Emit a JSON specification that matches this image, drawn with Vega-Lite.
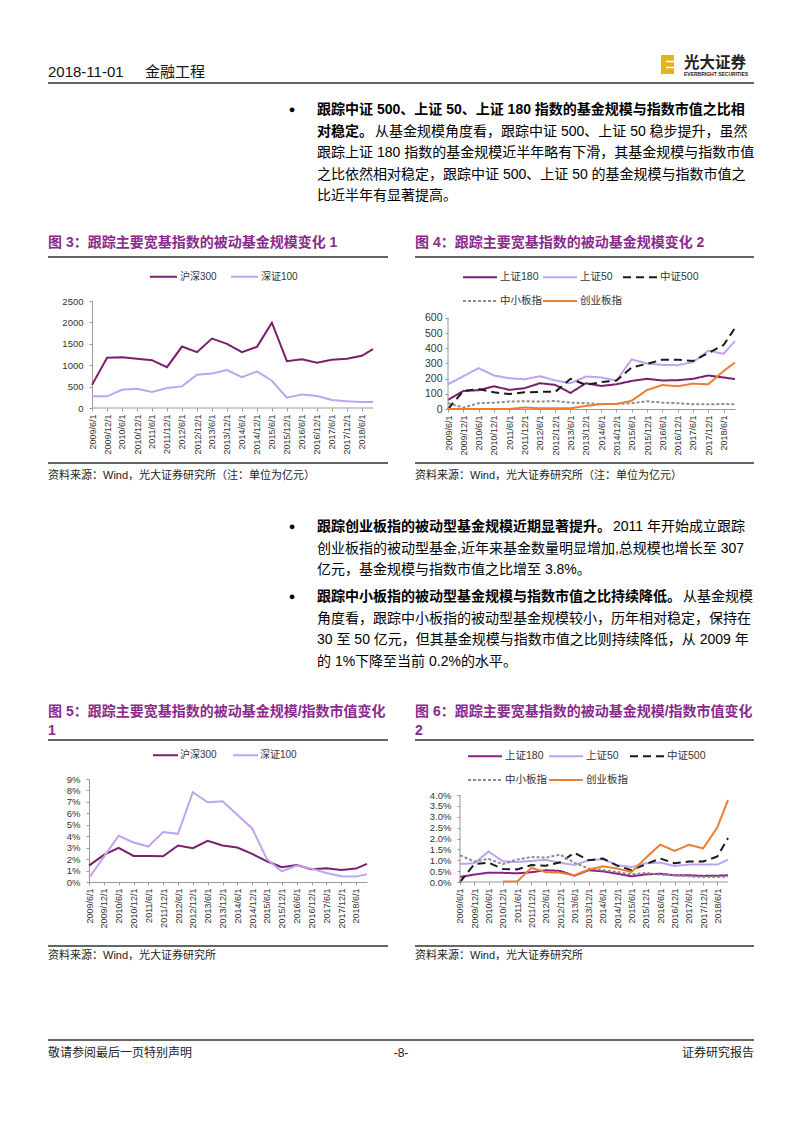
{
"$schema": "https://vega.github.io/schema/vega-lite/v6.json",
"padding": 0,
"background": "white",
"spacing": 0,
"bounds": "flush",
"columns": 4,
"align": "each",
"resolve": {"scale": {"color": "independent", "strokeDash": "independent"}, "legend": {"color": "independent", "strokeDash": "independent"}},
"config": {
  "view": {"stroke": null},
  "font": "Liberation Sans, Noto Sans CJK SC, sans-serif",
  "axis": {"labelFont": "Liberation Sans, Noto Sans CJK SC", "labelColor": "#333", "domainColor": "#9a9a9a", "tickColor": "#9a9a9a", "grid": false, "title": null, "tickSize": 3, "labelOverlap": false, "labelFlush": false, "labelBound": false},
  "legend": {"labelFont": "Liberation Sans, Noto Sans CJK SC", "labelColor": "#333", "padding": 0, "title": null}
},
"datasets": {
  "f3": [
    {"d":"2009/06/01","沪深300":540,"深证100":272},
    {"d":"2009/12/01","沪深300":1172,"深证100":272},
    {"d":"2010/06/01","沪深300":1188,"深证100":427},
    {"d":"2010/12/01","沪深300":1149,"深证100":450},
    {"d":"2011/06/01","沪深300":1118,"深证100":373},
    {"d":"2011/12/01","沪深300":955,"深证100":466},
    {"d":"2012/06/01","沪深300":1436,"深证100":505},
    {"d":"2012/12/01","沪深300":1304,"深证100":776},
    {"d":"2013/06/01","沪深300":1623,"深证100":807},
    {"d":"2013/12/01","沪深300":1498,"深证100":885},
    {"d":"2014/06/01","沪深300":1304,"深证100":722},
    {"d":"2014/12/01","沪深300":1429,"深证100":854},
    {"d":"2015/06/01","沪深300":1995,"深证100":637},
    {"d":"2015/12/01","沪深300":1095,"深证100":241},
    {"d":"2016/06/01","沪深300":1141,"深证100":318},
    {"d":"2016/12/01","沪深300":1056,"深证100":280},
    {"d":"2017/06/01","沪深300":1126,"深证100":186},
    {"d":"2017/12/01","沪深300":1149,"深证100":155},
    {"d":"2018/06/01","沪深300":1219,"深证100":140},
    {"d":"2018/10/15","沪深300":1374,"深证100":140}
  ],
  "f4": [
    {"d":"2009/06/01","上证180":60,"上证50":163,"中证500":0,"中小板指":38,"创业板指":0},
    {"d":"2009/12/01","上证180":119,"上证50":216,"中证500":119,"中小板指":9,"创业板指":0},
    {"d":"2010/06/01","上证180":124,"上证50":269,"中证500":132,"中小板指":38,"创业板指":0},
    {"d":"2010/12/01","上证180":150,"上证50":221,"中证500":110,"中小板指":42,"创业板指":0},
    {"d":"2011/06/01","上证180":126,"上证50":203,"中证500":99,"中小板指":49,"创业板指":0},
    {"d":"2011/12/01","上证180":137,"上证50":196,"中证500":110,"中小板指":51,"创业板指":10},
    {"d":"2012/06/01","上证180":170,"上证50":216,"中证500":113,"中小板指":49,"创业板指":5},
    {"d":"2012/12/01","上证180":159,"上证50":188,"中证500":113,"中小板指":53,"创业板指":5},
    {"d":"2013/06/01","上证180":106,"上证50":170,"中证500":199,"中小板指":42,"创业板指":5},
    {"d":"2013/12/01","上证180":170,"上证50":214,"中证500":159,"中小板指":38,"创业板指":20},
    {"d":"2014/06/01","上证180":152,"上证50":208,"中证500":177,"中小板指":33,"创业板指":32},
    {"d":"2014/12/01","上证180":163,"上证50":188,"中证500":188,"中小板指":33,"创业板指":33},
    {"d":"2015/06/01","上证180":185,"上证50":327,"中证500":274,"中小板指":38,"创业板指":55},
    {"d":"2015/12/01","上证180":199,"上证50":300,"中证500":298,"中小板指":51,"创业板指":125},
    {"d":"2016/06/01","上证180":188,"上证50":291,"中证500":325,"中小板指":42,"创业板指":158},
    {"d":"2016/12/01","上证180":190,"上证50":289,"中证500":325,"中小板指":38,"创业板指":150},
    {"d":"2017/06/01","上证180":199,"上证50":309,"中证500":316,"中小板指":31,"创业板指":167},
    {"d":"2017/12/01","上证180":221,"上证50":384,"中证500":369,"中小板指":31,"创业板指":163},
    {"d":"2018/06/01","上证180":208,"上证50":364,"中证500":422,"中小板指":33,"创业板指":250},
    {"d":"2018/10/15","上证180":197,"上证50":448,"中证500":534,"中小板指":31,"创业板指":307}
  ],
  "f5": [
    {"d":"2009/06/01","沪深300":0.0143,"深证100":0.0035},
    {"d":"2009/12/01","沪深300":0.0237,"深证100":0.0219},
    {"d":"2010/06/01","沪深300":0.0298,"深证100":0.0404},
    {"d":"2010/12/01","沪深300":0.0228,"深证100":0.0345},
    {"d":"2011/06/01","沪深300":0.0228,"深证100":0.0310},
    {"d":"2011/12/01","沪深300":0.0225,"深证100":0.0436},
    {"d":"2012/06/01","沪深300":0.0319,"深证100":0.0421},
    {"d":"2012/12/01","沪深300":0.0295,"深证100":0.0784},
    {"d":"2013/06/01","沪深300":0.0360,"深证100":0.0696},
    {"d":"2013/12/01","沪深300":0.0319,"深证100":0.0705},
    {"d":"2014/06/01","沪深300":0.0301,"深证100":0.0588},
    {"d":"2014/12/01","沪深300":0.0246,"深证100":0.0468},
    {"d":"2015/06/01","沪深300":0.0181,"深证100":0.0199},
    {"d":"2015/12/01","沪深300":0.0129,"深证100":0.0094},
    {"d":"2016/06/01","沪深300":0.0149,"深证100":0.0143},
    {"d":"2016/12/01","沪深300":0.0111,"深证100":0.0117},
    {"d":"2017/06/01","沪深300":0.0120,"深证100":0.0079},
    {"d":"2017/12/01","沪深300":0.0105,"深证100":0.0050},
    {"d":"2018/06/01","沪深300":0.0117,"深证100":0.0047},
    {"d":"2018/10/15","沪深300":0.0158,"深证100":0.0067}
  ],
  "f6": [
    {"d":"2009/06/01","上证180":0.0023,"上证50":0.0083,"中证500":0.0000,"中小板指":0.0123,"创业板指":null},
    {"d":"2009/12/01","上证180":0.0034,"上证50":0.0086,"中证500":0.0082,"中小板指":0.0094,"创业板指":null},
    {"d":"2010/06/01","上证180":0.0043,"上证50":0.0140,"中证500":0.0089,"中小板指":0.0106,"创业板指":null},
    {"d":"2010/12/01","上证180":0.0042,"上证50":0.0095,"中证500":0.0060,"中小板指":0.0082,"创业板指":0.0002},
    {"d":"2011/06/01","上证180":0.0040,"上证50":0.0092,"中证500":0.0058,"中小板指":0.0103,"创业板指":0.0002},
    {"d":"2011/12/01","上证180":0.0045,"上证50":0.0097,"中证500":0.0078,"中小板指":0.0115,"创业板指":0.0065},
    {"d":"2012/06/01","上证180":0.0054,"上证50":0.0102,"中证500":0.0075,"中小板指":0.0112,"创业板指":0.0045},
    {"d":"2012/12/01","上证180":0.0051,"上证50":0.0088,"中证500":0.0091,"中小板指":0.0126,"创业板指":0.0043},
    {"d":"2013/06/01","上证180":0.0029,"上证50":0.0078,"中证500":0.0134,"中小板指":0.0088,"创业板指":0.0031},
    {"d":"2013/12/01","上证180":0.0054,"上证50":0.0100,"中证500":0.0100,"中小板指":0.0062,"创业板指":0.0057},
    {"d":"2014/06/01","上证180":0.0049,"上证50":0.0105,"中证500":0.0108,"中小板指":0.0055,"创业板指":0.0072},
    {"d":"2014/12/01","上证180":0.0038,"上证50":0.0077,"中证500":0.0075,"中小板指":0.0046,"创业板指":0.0062},
    {"d":"2015/06/01","上证180":0.0026,"上证50":0.0069,"中证500":0.0054,"中小板指":0.0035,"创业板指":0.0046},
    {"d":"2015/12/01","上证180":0.0035,"上证50":0.0086,"中证500":0.0082,"中小板指":0.0042,"创业板指":0.0111},
    {"d":"2016/06/01","上证180":0.0038,"上证50":0.0089,"中证500":0.0108,"中小板指":0.0034,"创业板指":0.0172},
    {"d":"2016/12/01","上证180":0.0031,"上证50":0.0074,"中证500":0.0086,"中小板指":0.0031,"创业板指":0.0143},
    {"d":"2017/06/01","上证180":0.0031,"上证50":0.0080,"中证500":0.0094,"中小板指":0.0026,"创业板指":0.0171},
    {"d":"2017/12/01","上证180":0.0028,"上证50":0.0080,"中证500":0.0094,"中小板指":0.0023,"创业板指":0.0154},
    {"d":"2018/06/01","上证180":0.0029,"上证50":0.0080,"中证500":0.0117,"中小板指":0.0023,"创业板指":0.0251},
    {"d":"2018/10/15","上证180":0.0031,"上证50":0.0103,"中证500":0.0202,"中小板指":0.0025,"创业板指":0.0377}
  ]
},
"concat": [
  {
    "width": 89, "height": 301,
    "data": {"values": [{}]},
    "layer": [
      {"mark": {"type": "text", "text": "2018-11-01", "x": 48, "y": 72, "align": "left", "baseline": "middle", "fontSize": 15, "font": "Liberation Sans", "color": "#111"}},
      {"mark": {"type": "text", "text": "金融工程", "x": 145, "y": 72, "align": "left", "baseline": "middle", "fontSize": 15, "font": "Noto Sans CJK SC", "color": "#111"}},
      {"mark": {"type": "rect", "color": "#E3B51A"}, "encoding": {"x": {"value": 661}, "x2": {"value": 674}, "y": {"value": 55}, "y2": {"value": 74}}},
      {"mark": {"type": "rule", "color": "white", "strokeWidth": 1.5}, "encoding": {"x": {"value": 666}, "x2": {"value": 674}, "y": {"value": 61.5}}},
      {"mark": {"type": "rule", "color": "white", "strokeWidth": 1.5}, "encoding": {"x": {"value": 666}, "x2": {"value": 674}, "y": {"value": 67.5}}},
      {"mark": {"type": "text", "text": "光大证券", "x": 684, "y": 63, "align": "left", "baseline": "middle", "fontSize": 15.5, "fontWeight": "bold", "font": "Noto Sans CJK SC", "color": "#222"}},
      {"mark": {"type": "text", "text": "EVERBRIGHT SECURITIES", "x": 684, "y": 74, "align": "left", "baseline": "middle", "fontSize": 5, "fontWeight": "bold", "font": "Liberation Sans", "color": "#222"}},
      {"mark": {"type": "rule", "color": "#333", "strokeWidth": 1.5}, "encoding": {"x": {"value": 48}, "x2": {"value": 754}, "y": {"value": 83}}},
      {"mark": {"type": "text", "text": "●", "x": 292, "y": 110, "align": "center", "baseline": "middle", "fontSize": 11, "color": "#000"}},
      {"mark": {"type": "text", "text": "跟踪中证 500、上证 50、上证 180 指数的基金规模与指数市值之比相", "x": 317, "y": 110, "align": "left", "baseline": "middle", "fontSize": 14, "fontWeight": "bold", "color": "#000"}},
      {"mark": {"type": "text", "text": "对稳定。", "x": 317, "y": 131.5, "align": "left", "baseline": "middle", "fontSize": 14, "fontWeight": "bold", "color": "#000"}},
      {"mark": {"type": "text", "text": "从基金规模角度看，跟踪中证 500、上证 50 稳步提升，虽然", "x": 375, "y": 131.5, "align": "left", "baseline": "middle", "fontSize": 14, "color": "#000"}},
      {"mark": {"type": "text", "text": "跟踪上证 180 指数的基金规模近半年略有下滑，其基金规模与指数市值", "x": 317, "y": 153, "align": "left", "baseline": "middle", "fontSize": 14, "color": "#000"}},
      {"mark": {"type": "text", "text": "之比依然相对稳定，跟踪中证 500、上证 50 的基金规模与指数市值之", "x": 317, "y": 174.5, "align": "left", "baseline": "middle", "fontSize": 14, "color": "#000"}},
      {"mark": {"type": "text", "text": "比近半年有显著提高。", "x": 317, "y": 196, "align": "left", "baseline": "middle", "fontSize": 14, "color": "#000"}},
      {"mark": {"type": "text", "text": "图 3：跟踪主要宽基指数的被动基金规模变化 1", "x": 48, "y": 243, "align": "left", "baseline": "middle", "fontSize": 14, "fontWeight": "bold", "color": "#8A2A8C"}},
      {"mark": {"type": "text", "text": "图 4：跟踪主要宽基指数的被动基金规模变化 2", "x": 415, "y": 243, "align": "left", "baseline": "middle", "fontSize": 14, "fontWeight": "bold", "color": "#8A2A8C"}},
      {"mark": {"type": "rule", "color": "#333", "strokeWidth": 1.5}, "encoding": {"x": {"value": 48}, "x2": {"value": 388}, "y": {"value": 257}}},
      {"mark": {"type": "rule", "color": "#333", "strokeWidth": 1.5}, "encoding": {"x": {"value": 415}, "x2": {"value": 754}, "y": {"value": 257}}}
    ]
  },
  {"width": 1, "height": 1, "data": {"values": []}, "mark": "point"},
  {"width": 1, "height": 1, "data": {"values": []}, "mark": "point"},
  {"width": 1, "height": 1, "data": {"values": []}, "mark": "point"},

  {"width": 89, "height": 1, "data": {"values": []}, "mark": "point"},
  {
    "width": 284, "height": 107,
    "layer": [
      {
        "data": {"name": "f3"},
        "transform": [{"fold": ["沪深300", "深证100"], "as": ["s", "v"]}],
        "mark": {"type": "line", "strokeWidth": 2},
        "encoding": {
          "x": {"field": "d", "type": "temporal",
                "scale": {"domain": [{"year":2009,"month":4,"date":25},{"year":2018,"month":10,"date":15}]},
                "axis": {"values": [{"year":2009,"month":6,"date":1},{"year":2009,"month":12,"date":1},{"year":2010,"month":6,"date":1},{"year":2010,"month":12,"date":1},{"year":2011,"month":6,"date":1},{"year":2011,"month":12,"date":1},{"year":2012,"month":6,"date":1},{"year":2012,"month":12,"date":1},{"year":2013,"month":6,"date":1},{"year":2013,"month":12,"date":1},{"year":2014,"month":6,"date":1},{"year":2014,"month":12,"date":1},{"year":2015,"month":6,"date":1},{"year":2015,"month":12,"date":1},{"year":2016,"month":6,"date":1},{"year":2016,"month":12,"date":1},{"year":2017,"month":6,"date":1},{"year":2017,"month":12,"date":1},{"year":2018,"month":6,"date":1}],
                         "domain": false, "format": "%Y/%-m/%-d", "labelAngle": 270, "labelFontSize": 9, "labelPadding": 3}},
          "y": {"field": "v", "type": "quantitative", "scale": {"domain": [0, 2500], "nice": false},
                "axis": {"values": [0, 500, 1000, 1500, 2000, 2500], "format": "d", "offset": -3, "labelFontSize": 9.5, "labelPadding": 6}},
          "color": {"field": "s", "type": "nominal",
                    "scale": {"domain": ["沪深300", "深证100"], "range": ["#7A1F6E", "#BFA3F2"]},
                    "legend": {"orient": "none", "legendX": 60, "legendY": -39, "direction": "horizontal", "symbolType": "stroke", "symbolSize": 729, "symbolStrokeWidth": 2, "labelFontSize": 10, "labelOffset": 2, "columnPadding": 10}}
        }
      },
      {
        "data": {"values": [{}]},
        "mark": {"type": "rule", "color": "#9a9a9a", "strokeWidth": 1},
        "encoding": {
          "x": {"datum": {"year":2009,"month":6,"date":1}, "type": "temporal",
                "axis": {"values": [{"year":2009,"month":6,"date":1},{"year":2009,"month":12,"date":1},{"year":2010,"month":6,"date":1},{"year":2010,"month":12,"date":1},{"year":2011,"month":6,"date":1},{"year":2011,"month":12,"date":1},{"year":2012,"month":6,"date":1},{"year":2012,"month":12,"date":1},{"year":2013,"month":6,"date":1},{"year":2013,"month":12,"date":1},{"year":2014,"month":6,"date":1},{"year":2014,"month":12,"date":1},{"year":2015,"month":6,"date":1},{"year":2015,"month":12,"date":1},{"year":2016,"month":6,"date":1},{"year":2016,"month":12,"date":1},{"year":2017,"month":6,"date":1},{"year":2017,"month":12,"date":1},{"year":2018,"month":6,"date":1}],
                         "domain": false, "format": "%Y/%-m/%-d", "labelAngle": 270, "labelFontSize": 9, "labelPadding": 3}},
          "x2": {"datum": {"year":2018,"month":10,"date":15}},
          "y": {"datum": 0, "type": "quantitative",
                "axis": {"values": [0, 500, 1000, 1500, 2000, 2500], "format": "d", "offset": -3, "labelFontSize": 9.5, "labelPadding": 6}}
        }
      }
    ]
  },
  {"width": 75, "height": 1, "data": {"values": []}, "mark": "point"},
  {
    "width": 287, "height": 108,
    "layer": [
      {
        "data": {"name": "f4"},
        "transform": [{"fold": ["上证180", "上证50", "中证500", "中小板指", "创业板指"], "as": ["s", "v"]}],
        "mark": {"type": "line", "strokeWidth": 2},
        "encoding": {
          "x": {"field": "d", "type": "temporal",
                "scale": {"domain": [{"year":2009,"month":6,"date":1},{"year":2018,"month":10,"date":15}]},
                "axis": {"values": [{"year":2009,"month":6,"date":1},{"year":2009,"month":12,"date":1},{"year":2010,"month":6,"date":1},{"year":2010,"month":12,"date":1},{"year":2011,"month":6,"date":1},{"year":2011,"month":12,"date":1},{"year":2012,"month":6,"date":1},{"year":2012,"month":12,"date":1},{"year":2013,"month":6,"date":1},{"year":2013,"month":12,"date":1},{"year":2014,"month":6,"date":1},{"year":2014,"month":12,"date":1},{"year":2015,"month":6,"date":1},{"year":2015,"month":12,"date":1},{"year":2016,"month":6,"date":1},{"year":2016,"month":12,"date":1},{"year":2017,"month":6,"date":1},{"year":2017,"month":12,"date":1},{"year":2018,"month":6,"date":1}],
                         "format": "%Y/%-m/%-d", "labelAngle": 270, "labelFontSize": 9, "labelPadding": 3}},
          "y": {"field": "v", "type": "quantitative", "scale": {"domain": [0, 712], "nice": false},
                "axis": {"values": [0, 100, 200, 300, 400, 500, 600], "domain": false, "labelFontSize": 10.5, "labelPadding": 3}},
          "color": {"field": "s", "type": "nominal",
                    "scale": {"domain": ["上证180", "上证50", "中证500", "中小板指", "创业板指"], "range": ["#7A1F6E", "#BFA3F2", "#1A1A1A", "#8C8C8C", "#ED7D31"]},
                    "legend": {"orient": "none", "legendX": 14, "legendY": -42, "direction": "horizontal", "columns": 3, "symbolType": "stroke", "symbolSize": 1156, "symbolStrokeWidth": 2, "labelFontSize": 10.5, "labelOffset": 2, "columnPadding": -3, "rowPadding": -30}},
          "strokeDash": {"field": "s", "type": "nominal",
                    "scale": {"domain": ["上证180", "上证50", "中证500", "中小板指", "创业板指"], "range": [[1, 0], [1, 0], [8, 5], [3, 2], [1, 0]]},
                    "legend": {"orient": "none", "legendX": 14, "legendY": -42, "direction": "horizontal", "columns": 3, "symbolType": "stroke", "symbolSize": 1156, "symbolStrokeWidth": 2, "labelFontSize": 10.5, "labelOffset": 2, "columnPadding": -3, "rowPadding": -30}}
        }
      },
      {
        "data": {"values": [{}]},
        "mark": {"type": "rule", "color": "#9a9a9a", "strokeWidth": 1},
        "encoding": {
          "x": {"datum": {"year":2009,"month":6,"date":1}, "type": "temporal",
                "axis": {"values": [{"year":2009,"month":6,"date":1},{"year":2009,"month":12,"date":1},{"year":2010,"month":6,"date":1},{"year":2010,"month":12,"date":1},{"year":2011,"month":6,"date":1},{"year":2011,"month":12,"date":1},{"year":2012,"month":6,"date":1},{"year":2012,"month":12,"date":1},{"year":2013,"month":6,"date":1},{"year":2013,"month":12,"date":1},{"year":2014,"month":6,"date":1},{"year":2014,"month":12,"date":1},{"year":2015,"month":6,"date":1},{"year":2015,"month":12,"date":1},{"year":2016,"month":6,"date":1},{"year":2016,"month":12,"date":1},{"year":2017,"month":6,"date":1},{"year":2017,"month":12,"date":1},{"year":2018,"month":6,"date":1}],
                         "format": "%Y/%-m/%-d", "labelAngle": 270, "labelFontSize": 9, "labelPadding": 3}},
          "y": {"datum": 0, "type": "quantitative",
                "axis": {"values": [0, 100, 200, 300, 400, 500, 600], "domain": false, "labelFontSize": 10.5, "labelPadding": 3}},
          "y2": {"datum": 600}
        }
      }
    ]
  },

  {
    "width": 89, "height": 370,
    "data": {"values": [{}]},
    "layer": [
      {"mark": {"type": "rule", "color": "#333", "strokeWidth": 1.5}, "encoding": {"x": {"value": 48}, "x2": {"value": 388}, "y": {"value": 54}}},
      {"mark": {"type": "rule", "color": "#333", "strokeWidth": 1.5}, "encoding": {"x": {"value": 415}, "x2": {"value": 754}, "y": {"value": 54}}},
      {"mark": {"type": "text", "text": "资料来源：Wind，光大证券研究所（注：单位为亿元）", "x": 48, "y": 67, "align": "left", "baseline": "middle", "fontSize": 11, "color": "#222"}},
      {"mark": {"type": "text", "text": "资料来源：Wind，光大证券研究所（注：单位为亿元）", "x": 415, "y": 67, "align": "left", "baseline": "middle", "fontSize": 11, "color": "#222"}},
      {"mark": {"type": "text", "text": "●", "x": 292, "y": 118, "align": "center", "baseline": "middle", "fontSize": 11, "color": "#000"}},
      {"mark": {"type": "text", "text": "跟踪创业板指的被动型基金规模近期显著提升。", "x": 317, "y": 118, "align": "left", "baseline": "middle", "fontSize": 14, "fontWeight": "bold", "color": "#000"}},
      {"mark": {"type": "text", "text": "2011 年开始成立跟踪", "x": 613, "y": 118, "align": "left", "baseline": "middle", "fontSize": 14, "color": "#000"}},
      {"mark": {"type": "text", "text": "创业板指的被动型基金,近年来基金数量明显增加,总规模也增长至 307", "x": 317, "y": 139.5, "align": "left", "baseline": "middle", "fontSize": 14, "color": "#000"}},
      {"mark": {"type": "text", "text": "亿元，基金规模与指数市值之比增至 3.8%。", "x": 317, "y": 161, "align": "left", "baseline": "middle", "fontSize": 14, "color": "#000"}},
      {"mark": {"type": "text", "text": "●", "x": 292, "y": 188, "align": "center", "baseline": "middle", "fontSize": 11, "color": "#000"}},
      {"mark": {"type": "text", "text": "跟踪中小板指的被动型基金规模与指数市值之比持续降低。", "x": 317, "y": 188, "align": "left", "baseline": "middle", "fontSize": 14, "fontWeight": "bold", "color": "#000"}},
      {"mark": {"type": "text", "text": "从基金规模", "x": 683, "y": 188, "align": "left", "baseline": "middle", "fontSize": 14, "color": "#000"}},
      {"mark": {"type": "text", "text": "角度看，跟踪中小板指的被动型基金规模较小，历年相对稳定，保持在", "x": 317, "y": 209.5, "align": "left", "baseline": "middle", "fontSize": 14, "color": "#000"}},
      {"mark": {"type": "text", "text": "30 至 50 亿元，但其基金规模与指数市值之比则持续降低，从 2009 年", "x": 317, "y": 231, "align": "left", "baseline": "middle", "fontSize": 14, "color": "#000"}},
      {"mark": {"type": "text", "text": "的 1%下降至当前 0.2%的水平。", "x": 317, "y": 252.5, "align": "left", "baseline": "middle", "fontSize": 14, "color": "#000"}},
      {"mark": {"type": "text", "text": "图 5：跟踪主要宽基指数的被动基金规模/指数市值变化", "x": 48, "y": 303, "align": "left", "baseline": "middle", "fontSize": 14, "fontWeight": "bold", "color": "#8A2A8C"}},
      {"mark": {"type": "text", "text": "1", "x": 48, "y": 322, "align": "left", "baseline": "middle", "fontSize": 14, "fontWeight": "bold", "color": "#8A2A8C"}},
      {"mark": {"type": "text", "text": "图 6：跟踪主要宽基指数的被动基金规模/指数市值变化", "x": 415, "y": 303, "align": "left", "baseline": "middle", "fontSize": 14, "fontWeight": "bold", "color": "#8A2A8C"}},
      {"mark": {"type": "text", "text": "2", "x": 415, "y": 322, "align": "left", "baseline": "middle", "fontSize": 14, "fontWeight": "bold", "color": "#8A2A8C"}},
      {"mark": {"type": "rule", "color": "#333", "strokeWidth": 1.5}, "encoding": {"x": {"value": 48}, "x2": {"value": 388}, "y": {"value": 331}}},
      {"mark": {"type": "rule", "color": "#333", "strokeWidth": 1.5}, "encoding": {"x": {"value": 415}, "x2": {"value": 754}, "y": {"value": 331}}}
    ]
  },
  {"width": 1, "height": 1, "data": {"values": []}, "mark": "point"},
  {"width": 1, "height": 1, "data": {"values": []}, "mark": "point"},
  {"width": 1, "height": 1, "data": {"values": []}, "mark": "point"},

  {"width": 89, "height": 1, "data": {"values": []}, "mark": "point"},
  {
    "width": 278, "height": 103,
    "data": {"name": "f5"},
    "transform": [{"fold": ["沪深300", "深证100"], "as": ["s", "v"]}],
    "mark": {"type": "line", "strokeWidth": 2},
    "encoding": {
      "x": {"field": "d", "type": "temporal",
            "scale": {"domain": [{"year":2009,"month":6,"date":1},{"year":2018,"month":10,"date":15}]},
            "axis": {"values": [{"year":2009,"month":6,"date":1},{"year":2009,"month":12,"date":1},{"year":2010,"month":6,"date":1},{"year":2010,"month":12,"date":1},{"year":2011,"month":6,"date":1},{"year":2011,"month":12,"date":1},{"year":2012,"month":6,"date":1},{"year":2012,"month":12,"date":1},{"year":2013,"month":6,"date":1},{"year":2013,"month":12,"date":1},{"year":2014,"month":6,"date":1},{"year":2014,"month":12,"date":1},{"year":2015,"month":6,"date":1},{"year":2015,"month":12,"date":1},{"year":2016,"month":6,"date":1},{"year":2016,"month":12,"date":1},{"year":2017,"month":6,"date":1},{"year":2017,"month":12,"date":1},{"year":2018,"month":6,"date":1}],
                     "format": "%Y/%-m/%-d", "labelAngle": 270, "labelFontSize": 9, "labelPadding": 3}},
      "y": {"field": "v", "type": "quantitative", "scale": {"domain": [0, 0.09], "nice": false},
            "axis": {"values": [0, 0.01, 0.02, 0.03, 0.04, 0.05, 0.06, 0.07, 0.08, 0.09], "format": ".0%", "labelFontSize": 9.5, "labelPadding": 6}},
      "color": {"field": "s", "type": "nominal",
                "scale": {"domain": ["沪深300", "深证100"], "range": ["#7A1F6E", "#BFA3F2"]},
                "legend": {"orient": "none", "legendX": 63, "legendY": -37.5, "direction": "horizontal", "symbolType": "stroke", "symbolSize": 625, "symbolStrokeWidth": 2, "labelFontSize": 10, "labelOffset": 1, "columnPadding": 12}}
    }
  },
  {"width": 75, "height": 1, "data": {"values": []}, "mark": "point"},
  {
    "width": 280, "height": 103,
    "layer": [
      {
        "data": {"name": "f6"},
        "transform": [{"fold": ["上证180", "上证50", "中证500", "中小板指", "创业板指"], "as": ["s", "v"]}],
        "mark": {"type": "line", "strokeWidth": 2},
        "encoding": {
          "x": {"field": "d", "type": "temporal",
                "scale": {"domain": [{"year":2008,"month":12,"date":30},{"year":2018,"month":10,"date":15}]},
                "axis": {"values": [{"year":2009,"month":6,"date":1},{"year":2009,"month":12,"date":1},{"year":2010,"month":6,"date":1},{"year":2010,"month":12,"date":1},{"year":2011,"month":6,"date":1},{"year":2011,"month":12,"date":1},{"year":2012,"month":6,"date":1},{"year":2012,"month":12,"date":1},{"year":2013,"month":6,"date":1},{"year":2013,"month":12,"date":1},{"year":2014,"month":6,"date":1},{"year":2014,"month":12,"date":1},{"year":2015,"month":6,"date":1},{"year":2015,"month":12,"date":1},{"year":2016,"month":6,"date":1},{"year":2016,"month":12,"date":1},{"year":2017,"month":6,"date":1},{"year":2017,"month":12,"date":1},{"year":2018,"month":6,"date":1}],
                         "domain": false, "format": "%Y/%-m/%-d", "labelAngle": 270, "labelFontSize": 9, "labelPadding": 3}},
          "y": {"field": "v", "type": "quantitative", "scale": {"domain": [0, 0.04736], "nice": false},
                "axis": {"values": [0, 0.005, 0.01, 0.015, 0.02, 0.025, 0.03, 0.035, 0.04], "format": ".1%", "domain": false, "offset": -12, "labelFontSize": 9.5, "labelPadding": 6}},
          "color": {"field": "s", "type": "nominal",
                    "scale": {"domain": ["上证180", "上证50", "中证500", "中小板指", "创业板指"], "range": ["#8E1F86", "#BFA3F2", "#1A1A1A", "#8C8C8C", "#ED7D31"]},
                    "legend": {"orient": "none", "legendX": 19, "legendY": -41, "direction": "horizontal", "columns": 3, "symbolType": "stroke", "symbolSize": 1156, "symbolStrokeWidth": 2, "labelFontSize": 10.5, "labelOffset": 2, "columnPadding": -2, "rowPadding": -30}},
          "strokeDash": {"field": "s", "type": "nominal",
                    "scale": {"domain": ["上证180", "上证50", "中证500", "中小板指", "创业板指"], "range": [[1, 0], [1, 0], [8, 5], [3, 2], [1, 0]]},
                    "legend": {"orient": "none", "legendX": 19, "legendY": -41, "direction": "horizontal", "columns": 3, "symbolType": "stroke", "symbolSize": 1156, "symbolStrokeWidth": 2, "labelFontSize": 10.5, "labelOffset": 2, "columnPadding": -2, "rowPadding": -30}}
        }
      },
      {
        "data": {"values": [{}]},
        "mark": {"type": "rule", "color": "#9a9a9a", "strokeWidth": 1},
        "encoding": {
          "x": {"datum": {"year":2009,"month":6,"date":1}, "type": "temporal",
                "axis": {"values": [{"year":2009,"month":6,"date":1},{"year":2009,"month":12,"date":1},{"year":2010,"month":6,"date":1},{"year":2010,"month":12,"date":1},{"year":2011,"month":6,"date":1},{"year":2011,"month":12,"date":1},{"year":2012,"month":6,"date":1},{"year":2012,"month":12,"date":1},{"year":2013,"month":6,"date":1},{"year":2013,"month":12,"date":1},{"year":2014,"month":6,"date":1},{"year":2014,"month":12,"date":1},{"year":2015,"month":6,"date":1},{"year":2015,"month":12,"date":1},{"year":2016,"month":6,"date":1},{"year":2016,"month":12,"date":1},{"year":2017,"month":6,"date":1},{"year":2017,"month":12,"date":1},{"year":2018,"month":6,"date":1}],
                         "domain": false, "format": "%Y/%-m/%-d", "labelAngle": 270, "labelFontSize": 9, "labelPadding": 3}},
          "y": {"datum": 0, "type": "quantitative",
                "axis": {"values": [0, 0.005, 0.01, 0.015, 0.02, 0.025, 0.03, 0.035, 0.04], "format": ".1%", "domain": false, "offset": -12, "labelFontSize": 9.5, "labelPadding": 6}},
          "y2": {"datum": 0.04}
        }
      },
      {
        "data": {"values": [{}]},
        "mark": {"type": "rule", "color": "#9a9a9a", "strokeWidth": 1},
        "encoding": {
          "x": {"datum": {"year":2009,"month":6,"date":1}, "type": "temporal",
                "axis": {"values": [{"year":2009,"month":6,"date":1},{"year":2009,"month":12,"date":1},{"year":2010,"month":6,"date":1},{"year":2010,"month":12,"date":1},{"year":2011,"month":6,"date":1},{"year":2011,"month":12,"date":1},{"year":2012,"month":6,"date":1},{"year":2012,"month":12,"date":1},{"year":2013,"month":6,"date":1},{"year":2013,"month":12,"date":1},{"year":2014,"month":6,"date":1},{"year":2014,"month":12,"date":1},{"year":2015,"month":6,"date":1},{"year":2015,"month":12,"date":1},{"year":2016,"month":6,"date":1},{"year":2016,"month":12,"date":1},{"year":2017,"month":6,"date":1},{"year":2017,"month":12,"date":1},{"year":2018,"month":6,"date":1}],
                         "domain": false, "format": "%Y/%-m/%-d", "labelAngle": 270, "labelFontSize": 9, "labelPadding": 3}},
          "x2": {"datum": {"year":2018,"month":10,"date":15}},
          "y": {"datum": 0, "type": "quantitative",
                "axis": {"values": [0, 0.005, 0.01, 0.015, 0.02, 0.025, 0.03, 0.035, 0.04], "format": ".1%", "domain": false, "offset": -12, "labelFontSize": 9.5, "labelPadding": 6}}
        }
      }
    ]
  },

  {
    "width": 89, "height": 251,
    "data": {"values": [{}]},
    "layer": [
      {"mark": {"type": "rule", "color": "#333", "strokeWidth": 1.5}, "encoding": {"x": {"value": 48}, "x2": {"value": 388}, "y": {"value": 64}}},
      {"mark": {"type": "rule", "color": "#333", "strokeWidth": 1.5}, "encoding": {"x": {"value": 415}, "x2": {"value": 754}, "y": {"value": 64}}},
      {"mark": {"type": "text", "text": "资料来源：Wind，光大证券研究所", "x": 48, "y": 74, "align": "left", "baseline": "middle", "fontSize": 11, "color": "#222"}},
      {"mark": {"type": "text", "text": "资料来源：Wind，光大证券研究所", "x": 415, "y": 74, "align": "left", "baseline": "middle", "fontSize": 11, "color": "#222"}},
      {"mark": {"type": "rule", "color": "#333", "strokeWidth": 1.5}, "encoding": {"x": {"value": 48}, "x2": {"value": 754}, "y": {"value": 158}}},
      {"mark": {"type": "text", "text": "敬请参阅最后一页特别声明", "x": 48, "y": 171, "align": "left", "baseline": "middle", "fontSize": 12, "color": "#222"}},
      {"mark": {"type": "text", "text": "-8-", "x": 401, "y": 171, "align": "center", "baseline": "middle", "fontSize": 12, "color": "#222"}},
      {"mark": {"type": "text", "text": "证券研究报告", "x": 754, "y": 171, "align": "right", "baseline": "middle", "fontSize": 12, "color": "#222"}}
    ]
  },
  {"width": 1, "height": 1, "data": {"values": []}, "mark": "point"},
  {"width": 1, "height": 1, "data": {"values": []}, "mark": "point"},
  {"width": 1, "height": 1, "data": {"values": []}, "mark": "point"}
]
}
